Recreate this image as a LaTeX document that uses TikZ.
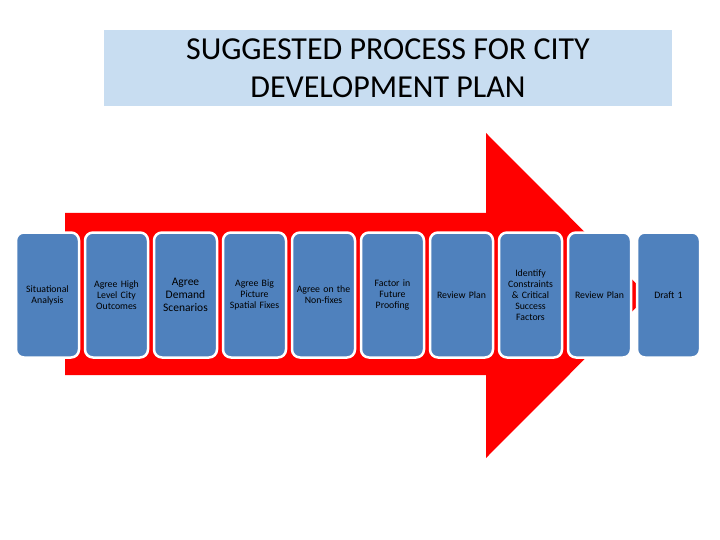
\documentclass[tikz,border=0pt]{standalone}
\usepackage{fontspec}
\setmainfont{Carlito}
\usetikzlibrary{positioning}
\definecolor{stepblue}{RGB}{79,129,189}
\definecolor{titleblue}{RGB}{200,221,241}
\tikzstyle{base} = [rectangle, rounded corners=8pt, draw=white, line width=2.5pt, fill=stepblue, minimum width=63pt, minimum height=125pt, text width=60pt, align=center, inner sep=1pt, font=\fontsize{9.8}{11}\selectfont]
\tikzstyle{stepbig} = [base, font=\fontsize{11.5}{13}\selectfont]
\tikzstyle{heading} = [rectangle, fill=titleblue, minimum width=568pt, minimum height=76pt, align=center, font=\fontsize{32}{38}\selectfont]

\begin{document}
\begin{tikzpicture}[x=1pt, y=-1pt, node distance=69pt]
    \useasboundingbox (0,0) rectangle (720,540);
    % title
    \node (title) [heading] at (388,68) {SUGGESTED PROCESS FOR CITY\\DEVELOPMENT PLAN};
    % big red arrow behind the steps
    \fill[red] (65,213) -- (486,213) -- (486,133) -- (648,295.5) -- (486,458) -- (486,375) -- (65,375) -- cycle;
    % steps
    \node (situation) [base] at (47.5,295) {Situational\\Analysis};
    \node (outcomes) [base, right of=situation] {Agree High\\Level City\\Outcomes};
    \node (demand) [stepbig, right of=outcomes] {Agree\\Demand\\Scenarios};
    \node (spatial) [base, right of=demand] {Agree Big\\Picture\\Spatial Fixes};
    \node (nonfixes) [base, right of=spatial] {Agree on the\\Non-fixes};
    \node (future) [base, right of=nonfixes] {Factor in\\Future\\Proofing};
    \node (review1) [base, right of=future] {Review Plan};
    \node (constraints) [base, right of=review1] {Identify\\Constraints\\\& Critical\\Success\\Factors};
    \node (review2) [base, right of=constraints] {Review Plan};
    \node (draft) [base, right of=review2] {Draft 1};
\end{tikzpicture}
\end{document}
